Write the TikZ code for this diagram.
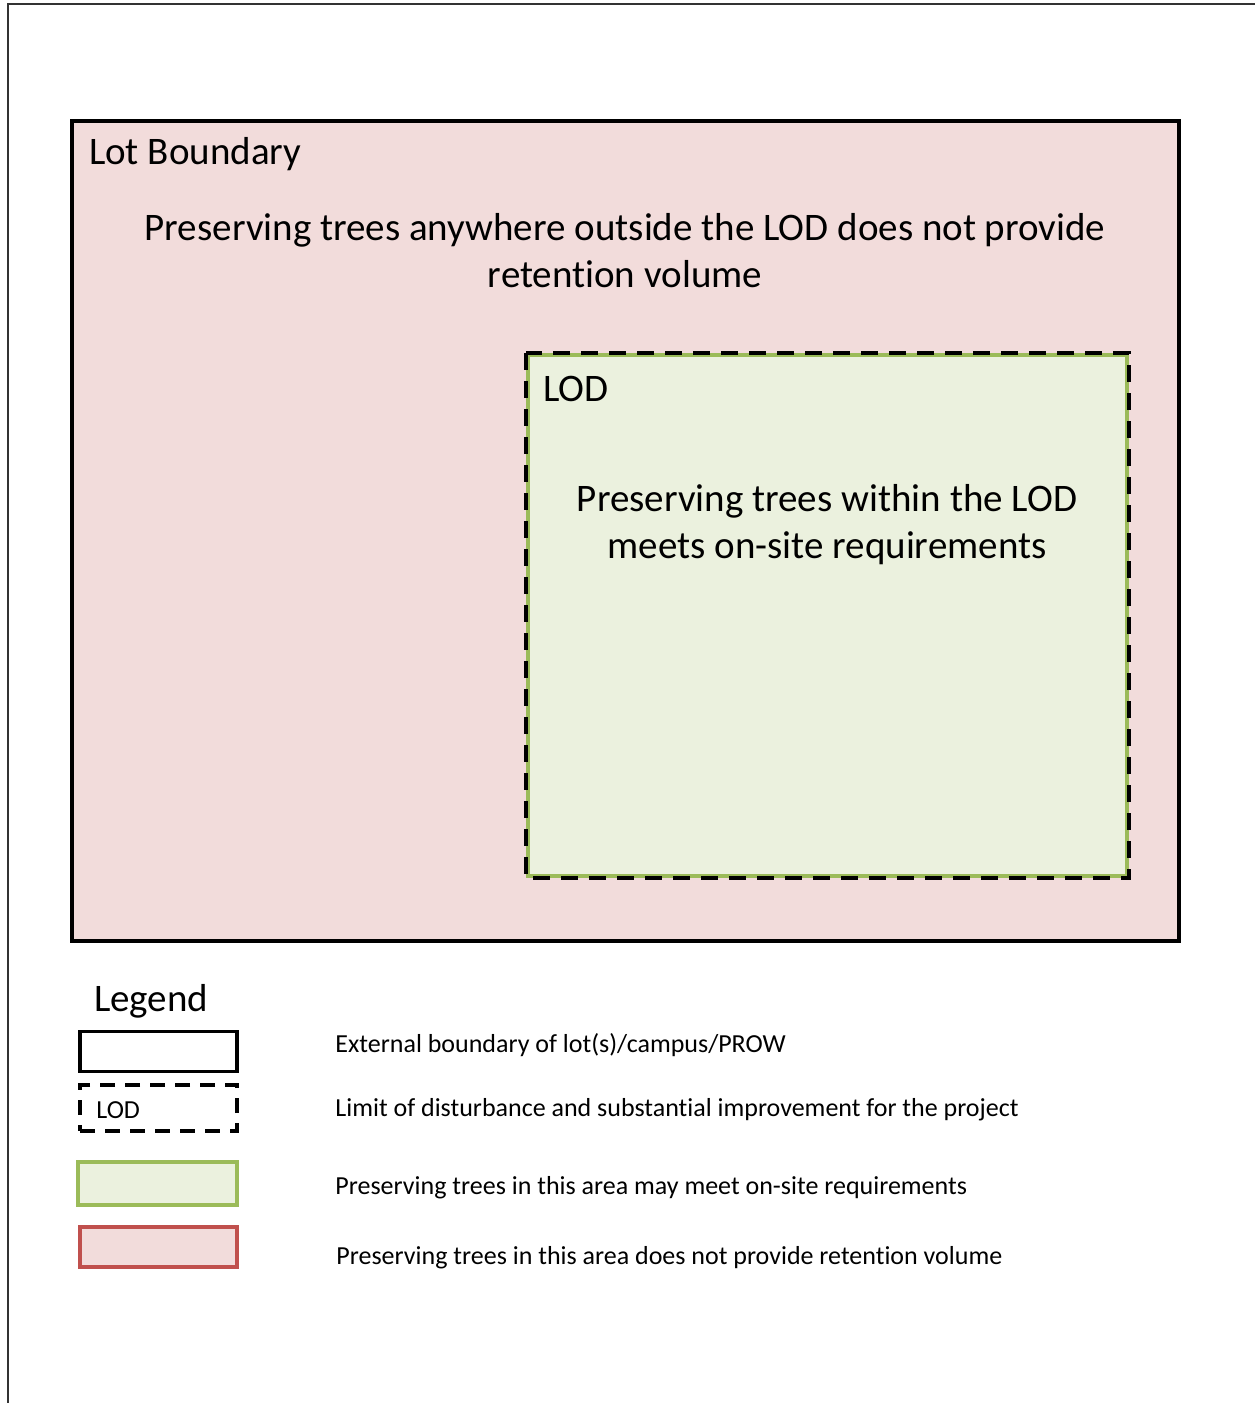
\documentclass[tikz,border=0pt]{standalone}
\usepackage{fontspec}
\setmainfont{Carlito}[Ligatures=CommonOff]
\usetikzlibrary{positioning}
\definecolor{lotpink}{HTML}{F2DCDB}
\definecolor{lodfill}{HTML}{EBF1DE}
\definecolor{lodgreen}{HTML}{9BBB59}
\definecolor{lotred}{HTML}{C0504D}

\begin{document}
\begin{tikzpicture}[
    x=0.5pt, y=-0.5pt,
    lotbox/.style={rectangle, draw, line width=2pt, fill=lotpink, inner sep=0pt},
    lodbox/.style={rectangle, inner sep=0pt, fill=lodfill, draw=lodgreen, line width=2pt},
    lodline/.style={draw, line width=2pt, dash pattern=on 8.5pt off 5.5pt},
    keybox/.style={rectangle, inner sep=0pt, minimum width=78.5pt, minimum height=20pt, line width=1.6pt},
    big/.style={font=\fontsize{19.5}{23.5}\selectfont, align=center},
    keytxt/.style={font=\fontsize{13}{15}\selectfont, anchor=west, inner sep=0pt}
  ]
    \useasboundingbox (0,0) rectangle (1255,1403);
    \draw[line width=0.8pt, black!80] (8,1403) -- (8,4) -- (1255,4);

    % site plan
    \node[lotbox, minimum width=553.5pt, minimum height=410pt] (lot) at (625.5,531) {};
    \node[big, anchor=west] (lotlbl) at (82,154) {Lot Boundary};
    \node[big] (outside) at (625,251) {Preserving trees anywhere outside the LOD does not provide\\retention volume};
    \node[lodbox, minimum width=299.5pt, minimum height=260.5pt] (lod) at (827.5,615.5) {};
    \draw[lodline] (lod.north west) rectangle (lod.south east);
    \node[big, anchor=west] (lodlbl) at (536,389) {LOD};
    \node[big] (inside) at (827,525) {Preserving trees within the LOD\\meets on-site requirements};

    % legend
    \node[big, anchor=west] (legend) at (87,1001) {Legend};
    \node[keybox, draw] (key1) at (158.5,1051.5) {};
    \node[keybox, draw, dash pattern=on 7.5pt off 5pt, minimum height=23pt] (key2) at (158.5,1108) {};
    \node[keytxt] (keylod) at (96,1110) {LOD};
    \node[keybox, draw=lodgreen, fill=lodfill, minimum width=79.5pt, minimum height=21.5pt] (key3) at (157.5,1183.5) {};
    \node[keybox, draw=lotred, fill=lotpink] (key4) at (158.5,1247) {};
    \node[keytxt] (txt1) at (335,1045) {External boundary of lot(s)/campus/PROW};
    \node[keytxt] (txt2) at (335,1110) {Limit of disturbance and substantial improvement for the project};
    \node[keytxt] (txt3) at (335,1188) {Preserving trees in this area may meet on-site requirements};
    \node[keytxt] (txt4) at (336,1258) {Preserving trees in this area does not provide retention volume};
\end{tikzpicture}
\end{document}
